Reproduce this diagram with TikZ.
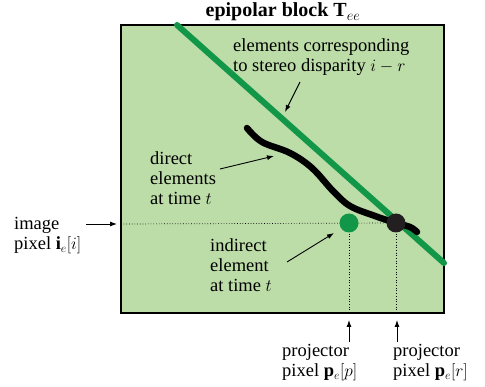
\documentclass[tikz,border=0pt]{standalone}
\usepackage{fontspec}
\setmainfont{Liberation Serif}
\usetikzlibrary{arrows.meta}
\definecolor{blockfill}{RGB}{188,220,168}
\definecolor{lineg}{RGB}{18,150,72}
\definecolor{dotk}{RGB}{35,31,32}
\tikzset{
  lbl/.style={inner sep=0pt, align=left, anchor=west, font=\fontsize{18.5}{20}\selectfont},
  arr/.style={line width=0.9pt, -{Latex[length=7pt,width=5pt]}},
  guide/.style={dotted, line width=0.7pt},
  dotnode/.style={circle, inner sep=0pt, minimum size=19pt}
}
\begin{document}
\begin{tikzpicture}[x=1pt,y=-1pt]
\useasboundingbox (0,0) rectangle (485,387);
% block
\draw[fill=blockfill, line width=1.3pt] (121,25) rectangle (444,313);
\coordinate (L) at (121,224);
\coordinate (B1) at (349,313);
\coordinate (B2) at (396,313);
\coordinate (gc) at (349,223);
\coordinate (kc) at (396,223);
% title
\node[inner sep=0pt, anchor=base, font=\fontsize{20}{22}\selectfont\bfseries] (title) at (283,17) {epipolar block $\mathbf{T}_{ee}$};
% guides
\draw[guide] (L) -- (kc);
\draw[guide] (gc) -- (B1);
\draw[guide] (kc) -- (B2);
% green line
\coordinate (gtop) at (177,25);
\coordinate (gend) at (444,263);
\draw[lineg, line width=6pt, line cap=round] (gtop) -- (gend);
% black curve
\draw[black, line width=6.5pt, line cap=round] plot[smooth, tension=0.6] coordinates {(247,128) (262,142) (290,153) (312,168) (333,191) (350,206) (375,216) (396,223) (410,227) (417,232)};
% dots
\node[dotnode, fill=lineg] (gdot) at (gc) {};
\node[dotnode, fill=dotk] (kdot) at (kc) {};
% labels
\node[lbl] (disp) at (233,57) {elements corresponding\\to stereo disparity $i-r$};
\node[lbl] (direct) at (150,178) {direct\\elements\\at time $t$};
\node[lbl] (indirect) at (210,265) {indirect\\element\\at time $t$};
\node[lbl] (image) at (14,236) {image\\pixel $\mathbf{i}_e[i]$};
\node[lbl] (projp) at (282,363) {projector\\pixel $\mathbf{p}_e[p]$};
\node[lbl] (projr) at (393,363) {projector\\pixel $\mathbf{p}_e[r]$};
% arrows
\coordinate (a1s) at (300,82); \coordinate (a1e) at (285,112);
\draw[arr] (a1s) -- (a1e);
\coordinate (a2s) at (220,169); \coordinate (a2e) at (274,156);
\draw[arr] (a2s) -- (a2e);
\coordinate (a3s) at (287,262); \coordinate (a3e) at (334,233);
\draw[arr] (a3s) -- (a3e);
\coordinate (a4s) at (86,224);
\draw[arr] (a4s) -- ([xshift=-4pt]L);
\coordinate (a5s) at (349,342); \coordinate (a5e) at (349,320);
\draw[arr] (a5s) -- (a5e);
\coordinate (a6s) at (397,342); \coordinate (a6e) at (397,320);
\draw[arr] (a6s) -- (a6e);
\end{tikzpicture}
\end{document}
